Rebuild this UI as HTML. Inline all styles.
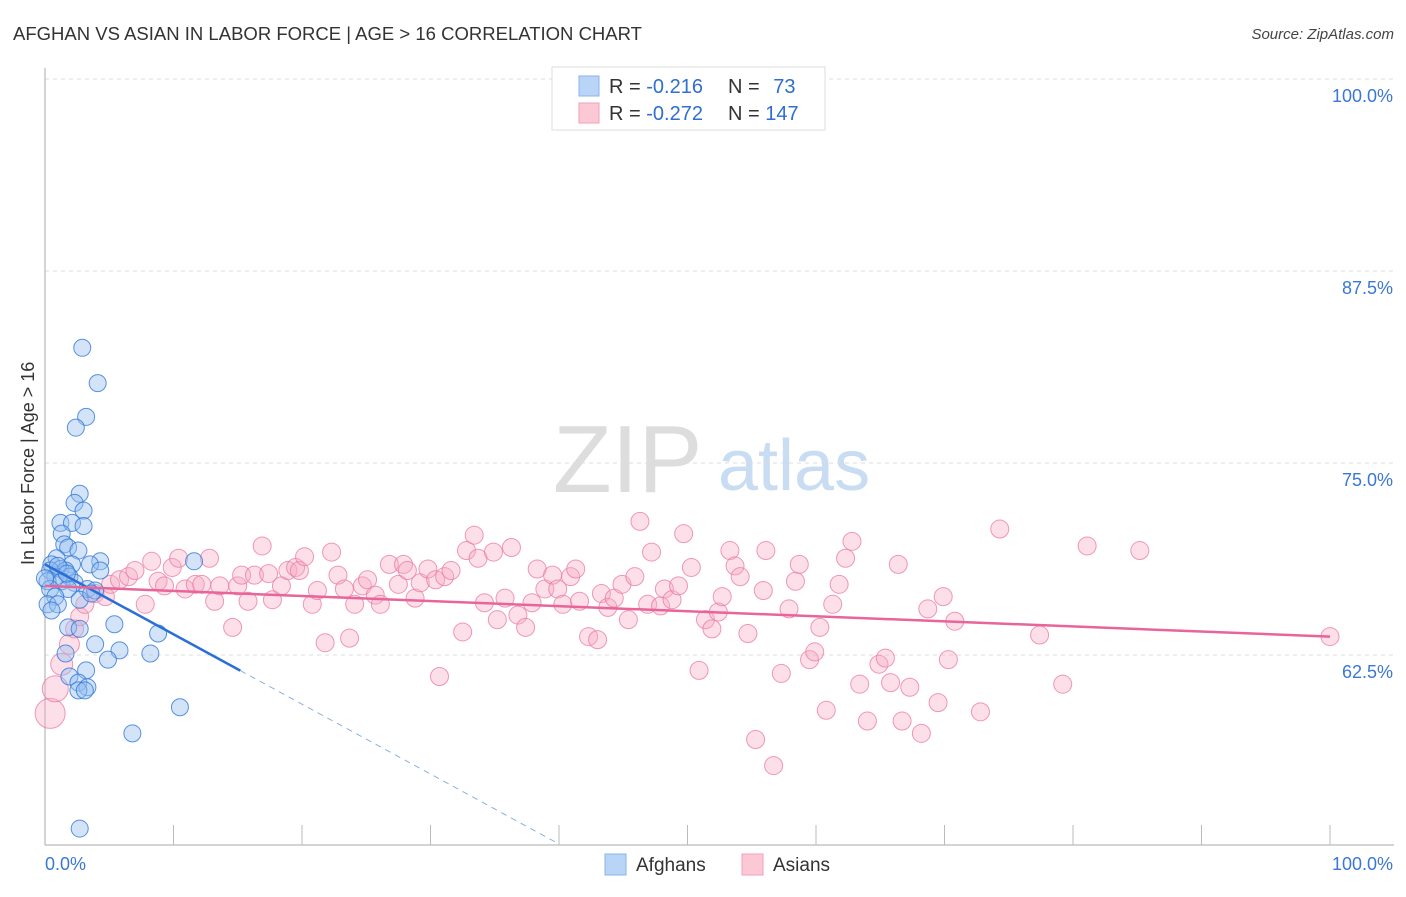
<!DOCTYPE html>
<html><head><meta charset="utf-8"><style>
body{margin:0;background:#fff;font-family:"Liberation Sans",sans-serif;}
svg text{font-family:"Liberation Sans",sans-serif;}
</style></head><body>
<svg id="chart" width="1406" height="892" viewBox="0 0 1406 892" xmlns="http://www.w3.org/2000/svg">
<text x="13" y="40" font-size="18" fill="#333" textLength="629" lengthAdjust="spacingAndGlyphs">AFGHAN VS ASIAN IN LABOR FORCE | AGE &gt; 16 CORRELATION CHART</text>
<text x="1394" y="39" font-size="15" fill="#444" font-style="italic" text-anchor="end">Source: ZipAtlas.com</text>
<g>
<text x="553" y="492" font-size="96" font-family="Liberation Serif" fill="#ddd">ZIP</text>
<text x="718" y="490" font-size="72" fill="#c8dcf2">atlas</text>
</g>
<g id="grid"></g>
<g id="axes"></g>
<g id="pink"></g>
<g id="blue"></g>
<g id="trends"></g>
<text transform="translate(34,565) rotate(-90)" font-size="18" fill="#333">In Labor Force | Age &gt; 16</text>
<g>
<rect x="552" y="67" width="273" height="63" fill="#fff" stroke="#ddd"/>
<rect x="579" y="76" width="20" height="20" fill="#b8d4f6" stroke="#8ab4ea"/>
<rect x="579" y="103" width="20" height="20" fill="#fcc8d6" stroke="#f2a0b8"/>
<text x="609" y="93" font-size="20" fill="#333">R = <tspan fill="#2e6fcf">-0.216</tspan></text>
<text x="728" y="93" font-size="20" fill="#333">N = <tspan fill="#2e6fcf" dx="8">73</tspan></text>
<text x="609" y="120" font-size="20" fill="#333">R = <tspan fill="#2e6fcf">-0.272</tspan></text>
<text x="728" y="120" font-size="20" fill="#333">N = <tspan fill="#2e6fcf">147</tspan></text>
</g>
<g>
<rect x="605" y="854" width="21" height="21" fill="#b8d4f6" stroke="#8ab4ea"/>
<text x="636" y="871" font-size="19" fill="#333">Afghans</text>
<rect x="742" y="854" width="21" height="21" fill="#fcc8d6" stroke="#f2a0b8"/>
<text x="773" y="871" font-size="19" fill="#333">Asians</text>
</g>
</svg>
<script>
const yTicks=[100,87.5,75,62.5];
const yTickLabels=["100.0%","87.5%","75.0%","62.5%"];
const xEndLabels=["0.0%","100.0%"];
const blueX=[2.9,4.1,3.2,2.4,2.7,2.3,3.0,1.2,2.1,3.0,1.3,1.5,1.8,2.6,0.9,4.3,11.6,0.5,2.1,3.5,1.2,0.4,1.6,4.3,0.8,1.9,0.2,1.3,2.3,0.4,1.8,3.3,3.9,0.8,2.7,0.2,1.0,0.5,5.4,1.8,2.7,8.8,3.9,1.6,5.8,8.2,4.9,3.2,1.9,2.6,3.3,2.6,3.1,10.5,6.8,2.7,1.0,0.0,1.7,3.6];
const blueY=[82.5,80.2,78.0,77.3,73.0,72.4,71.9,71.1,71.1,70.9,70.4,69.7,69.5,69.3,68.8,68.6,68.6,68.4,68.4,68.4,68.1,68.0,68.0,68.0,67.6,67.6,67.3,67.3,67.2,66.8,66.8,66.8,66.7,66.3,66.1,65.8,65.8,65.4,64.5,64.3,64.2,63.9,63.2,62.6,62.8,62.6,62.2,61.5,61.1,60.7,60.4,60.2,60.2,59.1,57.4,51.2,68.3,67.5,67.8,66.5];
const pinkX=[0.4,0.8,1.3,1.9,2.3,2.7,3.1,3.9,4.7,5.1,5.8,6.5,7.0,7.8,8.3,8.8,9.3,9.9,10.4,10.9,11.7,12.2,12.8,13.2,13.6,14.6,15.0,15.3,15.8,16.3,16.9,17.4,17.7,18.4,18.9,19.5,19.8,20.2,20.8,21.2,21.8,22.3,22.8,23.3,23.7,24.1,24.7,25.1,25.7,26.1,26.8,27.5,27.9,28.2,28.8,29.2,29.8,30.4,30.7,31.1,31.6,32.5,32.8,33.4,33.7,34.2,34.9,35.2,35.8,36.3,36.8,37.4,37.9,38.3,38.9,39.5,39.9,40.3,40.9,41.3,41.6,42.3,43.0,43.3,43.8,44.3,44.9,45.4,45.9,46.3,46.9,47.2,47.9,48.2,48.8,49.3,49.7,50.3,50.9,51.4,51.9,52.4,52.7,53.3,53.7,54.1,54.7,55.3,55.9,56.1,56.7,57.3,57.9,58.4,58.7,59.5,59.9,60.3,60.8,61.3,61.8,62.3,62.8,63.4,64.0,64.9,65.4,65.8,66.4,66.7,67.3,68.2,68.7,69.5,69.9,70.3,70.8,72.8,74.3,77.4,79.2,81.1,85.2,100];
const pinkY=[58.7,60.3,61.9,63.2,64.2,65.0,65.8,66.5,66.3,67.1,67.4,67.6,68.0,65.8,68.6,67.3,67.0,68.2,68.8,66.8,67.1,67.1,68.8,66.0,67.0,64.3,67.0,67.7,66.0,67.7,69.6,67.8,66.1,67.0,68.0,68.2,68.0,68.9,65.8,66.7,63.3,69.2,67.7,66.8,63.6,65.8,67.0,67.4,66.4,65.8,68.4,67.1,68.4,68.0,66.2,67.2,68.1,67.4,61.1,67.6,68.0,64.0,69.3,70.3,68.8,65.9,69.2,64.8,66.2,69.5,65.1,64.3,65.9,68.1,66.8,67.7,66.8,65.8,67.6,68.1,66.0,63.7,63.5,66.5,65.6,66.2,67.1,64.8,67.6,71.2,65.8,69.2,65.7,66.8,66.1,67.0,70.4,68.2,61.5,64.8,64.2,65.3,66.3,69.3,68.3,67.6,63.9,57.0,66.7,69.3,55.3,61.3,65.5,67.3,68.4,62.2,62.7,64.3,58.9,65.8,67.1,68.8,69.9,60.6,58.2,61.9,62.3,60.7,68.4,58.2,60.4,57.4,65.5,59.4,66.3,62.2,64.7,58.8,70.7,63.8,60.6,69.6,69.3,63.7];
const blueTrend=[68.4,-0.455];
const pinkTrend=[67.0,-0.033];
const NS="http://www.w3.org/2000/svg";
const X0=45,X1=1330,YT=80,YB=845;
function sx(v){return X0+(X1-X0)*v/100;}
function sy(v){return 655-(v-62.5)*15.36;}
function mk(tag,attrs,parent){const e=document.createElementNS(NS,tag);for(const k in attrs)e.setAttribute(k,attrs[k]);parent.appendChild(e);return e;}
const grid=document.getElementById('grid'),axes=document.getElementById('axes');
yTicks.forEach((t,i)=>{
 const l=mk('line',{x1:45,x2:1394,y1:sy(t),y2:sy(t),stroke:'#ddd','stroke-dasharray':'4,4'},grid);
 
 
 const tx=mk('text',{x:1393,y:sy(t)+23,'font-size':18,fill:'#3a78d4','text-anchor':'end'},axes);
 tx.textContent=yTickLabels[i];
 
 
});
const ya=mk('line',{x1:45,x2:45,y1:68,y2:YB,stroke:'#aaa'},axes);


const xa=mk('line',{x1:45,x2:1394,y1:YB,y2:YB,stroke:'#aaa'},axes);


for(let i=1;i<=10;i++){
 const t=mk('line',{x1:sx(i*10),x2:sx(i*10),y1:825,y2:YB,stroke:'#bbb'},axes);
 
 
}
const xl0=mk('text',{x:45,y:870,'font-size':18,fill:'#3a78d4'},axes);xl0.textContent=xEndLabels[0];


const xl1=mk('text',{x:1393,y:870,'font-size':18,fill:'#3a78d4','text-anchor':'end'},axes);xl1.textContent=xEndLabels[1];


const pg=document.getElementById('pink');
pinkX.forEach((x,i)=>{
 const big=i<4?[15,13,11,10][i]:9;
 const c=mk('circle',{cx:sx(x),cy:sy(pinkY[i]),r:big,fill:'rgba(248,170,195,0.38)',stroke:'rgba(235,120,160,0.75)','stroke-width':1},pg);
 
 
});
const bg=document.getElementById('blue');
blueX.forEach((x,i)=>{
 const c=mk('circle',{cx:sx(x),cy:sy(blueY[i]),r:8.5,fill:'rgba(150,190,240,0.42)',stroke:'rgba(50,120,215,0.8)','stroke-width':1},bg);
 
 
});
const tg=document.getElementById('trends');
const bx1=15.2,bx2=(50.3-blueTrend[0])/blueTrend[1];
const b1=mk('line',{x1:sx(0),y1:sy(blueTrend[0]),x2:sx(bx1),y2:sy(blueTrend[0]+blueTrend[1]*bx1),stroke:'#2a6fd6','stroke-width':2.5},tg);


const b2=mk('line',{x1:sx(bx1),y1:sy(blueTrend[0]+blueTrend[1]*bx1),x2:sx(bx2),y2:sy(blueTrend[0]+blueTrend[1]*bx2),stroke:'#8ab0e0','stroke-width':1,'stroke-dasharray':'6,5'},tg);


const p1=mk('line',{x1:sx(0),y1:sy(pinkTrend[0]),x2:sx(100),y2:sy(pinkTrend[0]+pinkTrend[1]*100),stroke:'#e8649a','stroke-width':2.5},tg);


</script>
</body></html>
